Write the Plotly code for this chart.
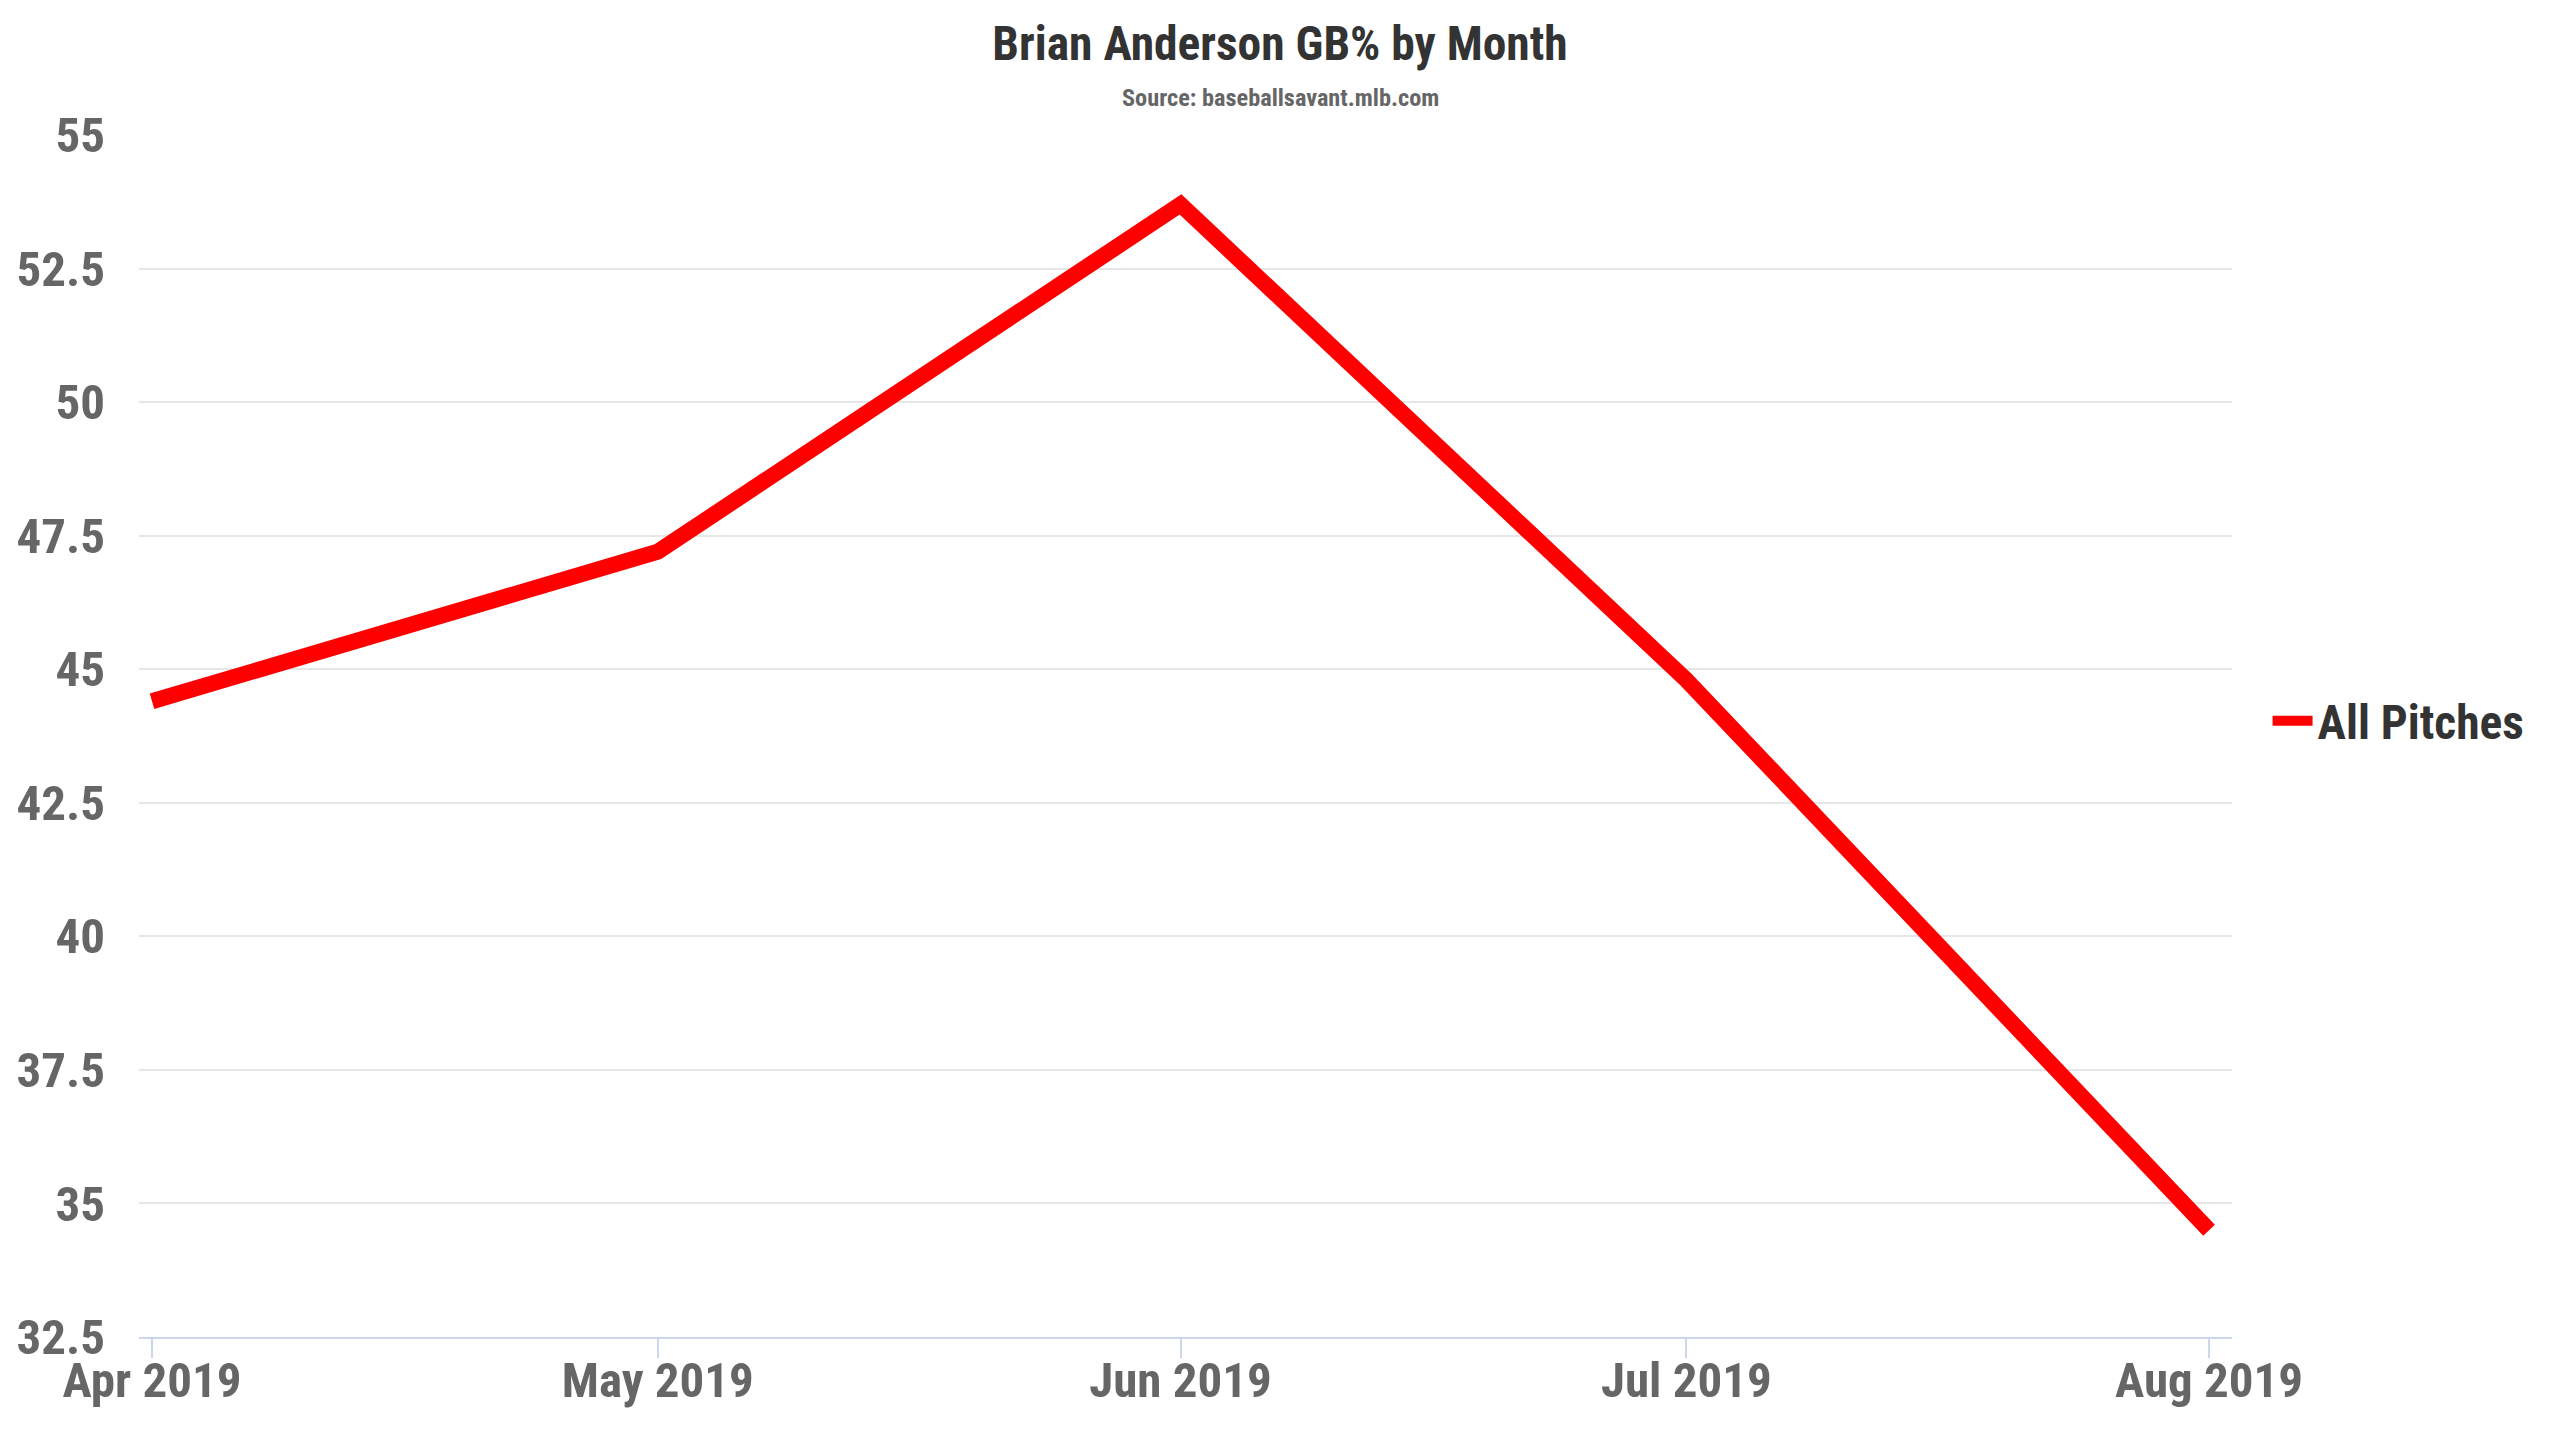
import plotly.graph_objects as go

# GB% por mês
months = ["2019-04-01", "2019-05-01", "2019-06-01", "2019-07-01", "2019-08-01"]
gb_pct = [44.4, 47.2, 53.7, 44.8, 34.5]
series_name = "All Pitches"
y_ticks = [32.5, 35, 37.5, 40, 42.5, 45, 47.5, 50, 52.5, 55]
y_tick_text = ["32.5", "35", "37.5", "40", "42.5", "45", "47.5", "50", "52.5", "55"]

FONT = "Roboto Condensed, Liberation Sans Narrow, Roboto, sans-serif"

W, H = 2560, 1440
L, R, T, B = 139, 328, 135, 103

fig = go.Figure()

fig.add_trace(
    go.Scatter(
        x=months,
        y=gb_pct,
        mode="lines",
        name=series_name,
        line=dict(color="#ff0000", width=16),
    )
)

fig.update_layout(
    width=W,
    height=H,
    margin=dict(l=L, r=R, t=T, b=B),
    paper_bgcolor="white",
    plot_bgcolor="white",
    font=dict(family=FONT, color="#666666", weight="bold"),
    title=dict(
        text="Brian Anderson GB% by Month",
        x=0.5,
        xref="container",
        xanchor="center",
        y=1 - 43 / H,
        yref="container",
        yanchor="middle",
        font=dict(family=FONT, size=47.5, color="#333333", weight="bold"),
    ),
    showlegend=True,
    legend=dict(
        x=1.017,
        xanchor="left",
        y=0.5125,
        yanchor="middle",
        itemwidth=40,
        font=dict(family=FONT, size=47.5, color="#333333", weight="bold"),
        bgcolor="rgba(0,0,0,0)",
    ),
    annotations=[
        dict(
            text="Source: baseballsavant.mlb.com",
            xref="paper",
            yref="paper",
            x=(1280 - L) / (W - L - R),
            y=(H - B - 97) / (H - T - B),
            xanchor="center",
            yanchor="middle",
            showarrow=False,
            font=dict(family=FONT, size=24.3, color="#666666", weight="bold"),
        )
    ],
)

fig.update_xaxes(
    type="date",
    range=["2019-03-31 05:30", "2019-08-02 08:40"],
    tick0="2019-04-01",
    dtick="M1",
    tickformat="%b %Y",
    showgrid=False,
    showline=True,
    linecolor="#ccd6eb",
    linewidth=2,
    ticks="outside",
    ticklen=19,
    tickwidth=2,
    tickcolor="#ccd6eb",
    ticklabelstandoff=-20,
    tickfont=dict(family=FONT, size=49, color="#666666", weight="bold"),
    zeroline=False,
)

fig.update_yaxes(
    range=[32.5, 55],
    tickvals=y_ticks,
    ticktext=y_tick_text,
    showgrid=True,
    gridcolor="#e6e6e6",
    gridwidth=2,
    showline=False,
    zeroline=False,
    ticks="",
    ticklabelstandoff=33,
    tickfont=dict(family=FONT, size=49, color="#666666", weight="bold"),
)

# remove a margem padrão do body para o gráfico ficar em (0, 0)
fig.write_html(
    "out.html",
    config={"displayModeBar": False},
    post_script="document.body.style.margin='0';",
)
